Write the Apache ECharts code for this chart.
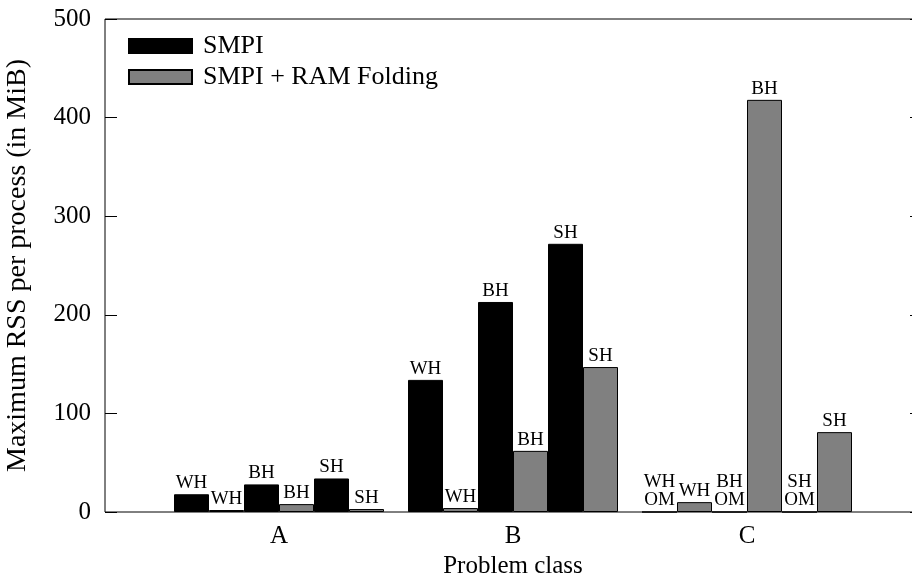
<!DOCTYPE html>
<html>
<head>
<meta charset="utf-8">
<script src="https://cdn.jsdelivr.net/npm/echarts@6/dist/echarts.min.js"></script>
<style>html,body{margin:0;padding:0;background:#fff;}#c{width:912px;height:579px;}</style>
</head>
<body>
<div id="c"></div>
<script>
const categories = ['A', 'B', 'C'];
const smpiWH = [18, 134, 0];
const ramWH = [2, 4, 10];
const smpiBH = [28, 213, 0];
const ramBH = [8, 62, 418];
const smpiSH = [34, 272, 0];
const ramSH = [3, 147, 81];
const labSmpiWH = ['WH', 'WH', 'WH\nOM'];
const labRamWH = ['WH', 'WH', 'WH'];
const labSmpiBH = ['BH', 'BH', 'BH\nOM'];
const labRamBH = ['BH', 'BH', 'BH'];
const labSmpiSH = ['SH', 'SH', 'SH\nOM'];
const labRamSH = ['SH', 'SH', 'SH'];
const yTicks = [0, 100, 200, 300, 400, 500];

const FONT = 'Liberation Serif';
const chart = echarts.init(document.getElementById('c'), null, {renderer: 'canvas'});

function mk(name, data, labels, color) {
  return {
    name: name, type: 'bar', xAxisIndex: 1, yAxisIndex: 2,
    data: data, barWidth: 35, barGap: '0%',
    itemStyle: {color: color, borderColor: '#000', borderWidth: 1},
    label: {
      show: true, position: 'top', distance: 2,
      fontFamily: FONT, fontSize: 19, lineHeight: 18, color: '#000',
      formatter: p => labels[p.dataIndex]
    },
    animation: false
  };
}
const BLACK = '#000000', GRAY = '#808080';

chart.setOption({
  animation: false,
  textStyle: {fontFamily: FONT},
  legend: {
    orient: 'vertical', left: 128, top: 33, padding: 0,
    itemWidth: 63, itemHeight: 14, itemGap: 5, icon: 'rect',
    data: ['SMPI', 'SMPI + RAM Folding'],
    textStyle: {fontFamily: FONT, fontSize: 26, color: '#000', padding: [0, 0, 0, 6]}
  },
  grid: [
    {left: 105, right: -10, top: 19, bottom: 67, show: true, borderColor: '#000', borderWidth: 1,
     containLabel: false, outerBoundsMode: 'none'},
    {left: 162, width: 702, top: 19, bottom: 67, containLabel: false, outerBoundsMode: 'none'}
  ],
  xAxis: [
    {gridIndex: 0, type: 'value', show: false, min: 0, max: 1},
    {gridIndex: 1, type: 'category', data: categories,
     axisLine: {show: false}, axisTick: {show: false},
     axisLabel: {fontFamily: FONT, fontSize: 25, color: '#000', margin: 12},
     name: 'Problem class', nameLocation: 'middle', nameGap: 40,
     nameTextStyle: {fontFamily: FONT, fontSize: 25, color: '#000'}}
  ],
  yAxis: [
    {gridIndex: 0, type: 'value', min: 0, max: 500, interval: 100, position: 'left',
     axisLine: {show: false}, splitLine: {show: false},
     axisTick: {show: true, inside: true, length: 12, lineStyle: {color: '#000'}},
     axisLabel: {fontFamily: FONT, fontSize: 25, color: '#000', margin: 14,
                 formatter: v => yTicks.includes(v) ? String(v) : ''},
     name: 'Maximum RSS per process (in MiB)', nameLocation: 'middle', nameGap: 73,
     nameTextStyle: {fontFamily: FONT, fontSize: 28, color: '#000'}},
    {gridIndex: 0, type: 'value', min: 0, max: 500, interval: 100, position: 'right',
     axisLine: {show: false}, splitLine: {show: false}, axisLabel: {show: false},
     axisTick: {show: true, inside: true, length: 12, lineStyle: {color: '#000'}}},
    {gridIndex: 1, type: 'value', min: 0, max: 500, show: false, splitLine: {show: false}}
  ],
  series: [
    mk('SMPI', smpiWH, labSmpiWH, BLACK),
    mk('SMPI + RAM Folding', ramWH, labRamWH, GRAY),
    mk('SMPI', smpiBH, labSmpiBH, BLACK),
    mk('SMPI + RAM Folding', ramBH, labRamBH, GRAY),
    mk('SMPI', smpiSH, labSmpiSH, BLACK),
    mk('SMPI + RAM Folding', ramSH, labRamSH, GRAY)
  ]
});
</script>
</body>
</html>
